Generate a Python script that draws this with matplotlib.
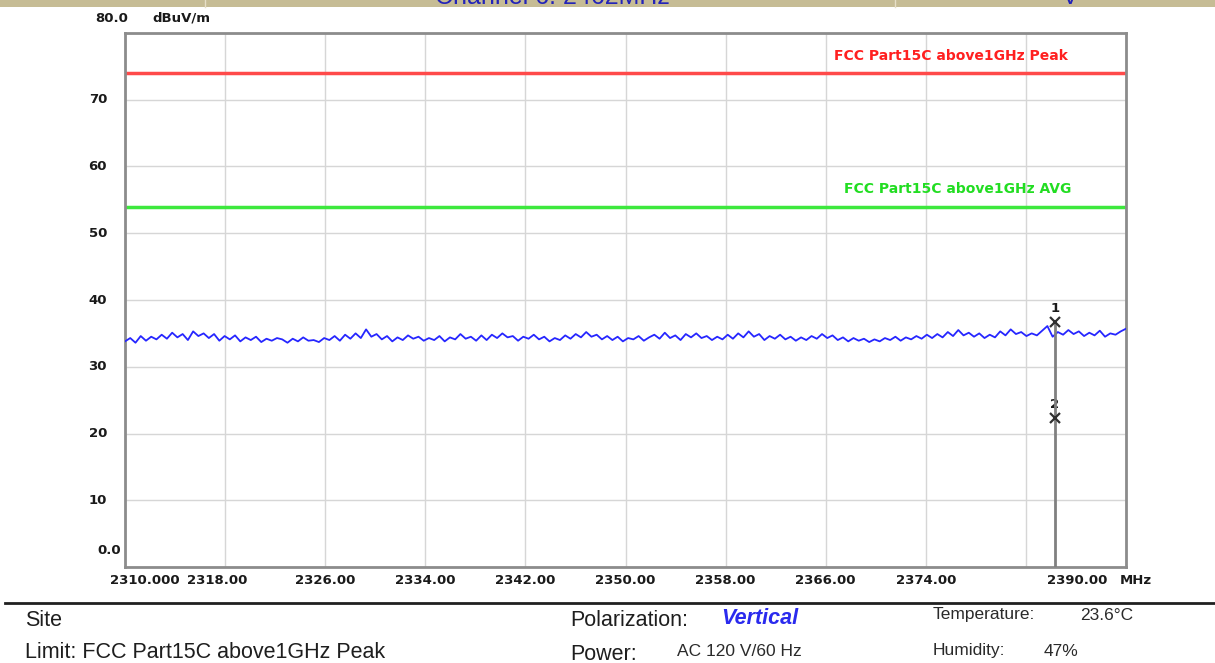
import numpy as np
from matplotlib import pyplot as plt
from matplotlib.patches import Rectangle
from matplotlib.lines import Line2D

# spectrum trace, dBuV/m, evenly spaced 2310 -> 2390 MHz
trace_dbuv = [
    33.8, 34.3, 33.6, 34.6, 33.9, 34.5, 34.1, 34.8, 34.2, 35.1, 34.4, 34.9, 34.0, 35.3, 34.6, 35.0, 34.3, 34.9, 33.9, 34.6, 34.1,
    34.7, 33.8, 34.4, 34.0, 34.5, 33.7, 34.2, 33.9, 34.3, 34.1, 33.6, 34.2, 33.8, 34.4, 33.9, 34.0, 33.7, 34.3, 34.0,
    34.6, 33.9, 34.8, 34.2, 35.0, 34.3, 35.6, 34.5, 34.9, 34.1, 34.6, 33.8, 34.4, 34.0, 34.7, 34.2, 34.5, 33.9, 34.3,
    34.0, 34.6, 33.8, 34.4, 34.1, 34.9, 34.2, 34.5, 33.9, 34.7, 34.0, 34.8, 34.3, 35.0, 34.4, 34.6, 33.9, 34.5, 34.2,
    34.8, 34.1, 34.5, 33.8, 34.3, 34.0, 34.7, 34.2, 34.9, 34.4, 35.2, 34.5, 34.8, 34.1, 34.6, 34.0, 34.5, 33.8, 34.3,
    34.1, 34.6, 33.9, 34.4, 34.8, 34.2, 35.1, 34.3, 34.7, 34.0, 34.9, 34.4, 35.0, 34.3, 34.6, 34.0, 34.5, 34.1, 34.8,
    34.2, 35.0, 34.4, 35.3, 34.5, 34.9, 34.0, 34.6, 34.2, 34.8, 34.1, 34.5, 33.9, 34.4, 34.0, 34.6, 34.2, 34.9, 34.3,
    34.7, 34.0, 34.4, 33.8, 34.3, 33.9, 34.2, 33.7, 34.1, 33.8, 34.3, 34.0, 34.5, 33.9, 34.4, 34.1, 34.6, 34.2, 34.8,
    34.3, 34.9, 34.4, 35.2, 34.6, 35.5, 34.7, 35.1, 34.5, 35.0, 34.3, 34.8, 34.4, 35.3, 34.7, 35.6, 34.9, 35.2, 34.6,
    35.0, 34.7, 35.4, 36.1, 34.5, 35.2, 34.8, 35.5, 34.9, 35.3, 34.6, 35.1, 34.7, 35.4, 34.5, 35.0, 34.8, 35.3, 35.7,
]
f_start, f_stop = 2310.0, 2390.0
freq = np.linspace(f_start, f_stop, len(trace_dbuv))

peak_limit = 74.0
avg_limit = 54.0
peak_label = 'FCC Part15C above1GHz Peak'
avg_label = 'FCC Part15C above1GHz AVG'

marker_freq = 2384.33
marker_vals = [36.7, 22.3]
marker_names = ['1', '2']

x_ticks = [2310, 2318, 2326, 2334, 2342, 2350, 2358, 2366, 2374, 2382, 2390]
x_labels = ['2310.000', '2318.00', '2326.00', '2334.00', '2342.00', '2350.00',
            '2358.00', '2366.00', '2374.00', '', '2390.00']
y_ticks = [0, 10, 20, 30, 40, 50, 60, 70, 80]
y_labels = ['0.0', '10', '20', '30', '40', '50', '60', '70', '80.0']

W, H = 1215, 663
fig = plt.figure(figsize=(W / 100, H / 100), dpi=100)

def fx(px):
    return px / W

def fy(py):
    return 1 - py / H

# header strip (cut off at the top, as in the source screenshot)
fig.patches.append(Rectangle((0, fy(7)), 1, 7 / H, transform=fig.transFigure,
                             facecolor='#c6bc95', edgecolor='none'))
for sx in (205, 895):
    fig.lines.append(Line2D([fx(sx), fx(sx)], [fy(7), 1], transform=fig.transFigure,
                            color='#e6dfc8', lw=1))
fig.text(fx(552), fy(4), 'Channel 6: 2462MHz', ha='center', va='baseline',
         fontsize=18, family='Liberation Sans', color='#2323b8')
fig.text(fx(1070), fy(4), 'V', ha='center', va='baseline',
         fontsize=18, family='Liberation Sans', color='#2323b8')

ax = fig.add_axes([fx(125), fy(567), (1126 - 125) / W, (567 - 33) / H])
ax.set_xlim(f_start, f_stop)
ax.set_ylim(0, 80)
ax.set_xticks(x_ticks)
ax.set_yticks(y_ticks)
ax.set_xticklabels([])
ax.set_yticklabels([])
ax.tick_params(length=0)
ax.grid(True, color='#d6d6d6', lw=1)
for s in ax.spines.values():
    s.set_color('#8c8c8c')
    s.set_linewidth(2)

bold = dict(family='DejaVu Sans', weight='bold', fontsize=9.5, color='#1a1a1a')

# x tick labels (a few nudged like the analyser software does)
x_shift = {2310: 20, 2318: -8, 2390: -49}
for t, lab in zip(x_ticks, x_labels):
    ax.annotate(lab, xy=(t, 0), xycoords=('data', 'axes fraction'),
                xytext=(x_shift.get(t, 0), -13), textcoords='offset pixels',
                ha='center', va='center', **bold)
ax.annotate('MHz', xy=(1, 0), xycoords='axes fraction', xytext=(-6, -13),
            textcoords='offset pixels', ha='left', va='center', **bold)

# y tick labels
for t, lab in zip(y_ticks, y_labels):
    if t == 0:
        off = (-4, 16)
    elif t == 80:
        off = (3, 15)
    else:
        off = (-18, 0)
    ax.annotate(lab, xy=(0, t), xycoords=('axes fraction', 'data'),
                xytext=off, textcoords='offset pixels', ha='right', va='center', **bold)
ax.annotate('dBuV/m', xy=(0, 80), xycoords=('axes fraction', 'data'),
            xytext=(27, 15), textcoords='offset pixels', ha='left', va='center', **bold)

# limit lines
ax.axhline(peak_limit, color='#ff4a4a', lw=2.5)
ax.axhline(avg_limit, color='#3de83d', lw=2.5)
ax.annotate(peak_label, xy=(2366.7, peak_limit), xytext=(0, 17), textcoords='offset pixels',
            ha='left', va='center', family='DejaVu Sans', weight='bold', fontsize=10,
            color='#ff2020')
ax.annotate(avg_label, xy=(2367.5, avg_limit), xytext=(0, 18), textcoords='offset pixels',
            ha='left', va='center', family='DejaVu Sans', weight='bold', fontsize=10,
            color='#22dd22')

# trace
ax.plot(freq, trace_dbuv, color='#2626ff', lw=1.3, zorder=3)

# markers
ax.plot([marker_freq, marker_freq], [0, marker_vals[0]], color='#808080', lw=2, zorder=4)
ax.plot([marker_freq] * 2, marker_vals, 'x', color='#303030', ms=7, mew=1.6, zorder=5)
for v, n in zip(marker_vals, marker_names):
    ax.annotate(n, xy=(marker_freq, v), xytext=(0, 14), textcoords='offset pixels',
                ha='center', va='center', **bold)

# info panel below the chart
fig.lines.append(Line2D([fx(5), 1], [fy(603), fy(603)], transform=fig.transFigure,
                        color='#202020', lw=2))
big = dict(family='Liberation Sans', fontsize=15.5, color='#1e1e1e', va='center')
small = dict(family='Liberation Sans', fontsize=12.5, color='#2a2a2a', va='center')
fig.text(fx(25), fy(620), 'Site', **big)
fig.text(fx(25), fy(653), 'Limit: FCC Part15C above1GHz Peak', **big)
fig.text(fx(570), fy(620), 'Polarization:', **big)
fig.text(fx(721), fy(619), 'Vertical', family='Liberation Sans', fontsize=15.5,
         weight='bold', style='italic', color='#2a2aee', va='center')
fig.text(fx(570), fy(654), 'Power:', **big)
fig.text(fx(677), fy(651), 'AC 120 V/60 Hz', **small)
fig.text(fx(933), fy(615), 'Temperature:', **small)
fig.text(fx(1080), fy(615), '23.6°C', **small)
fig.text(fx(933), fy(651), 'Humidity:', **small)
fig.text(fx(1044), fy(651), '47%', **small)

plt.savefig('out.png', dpi=100)
